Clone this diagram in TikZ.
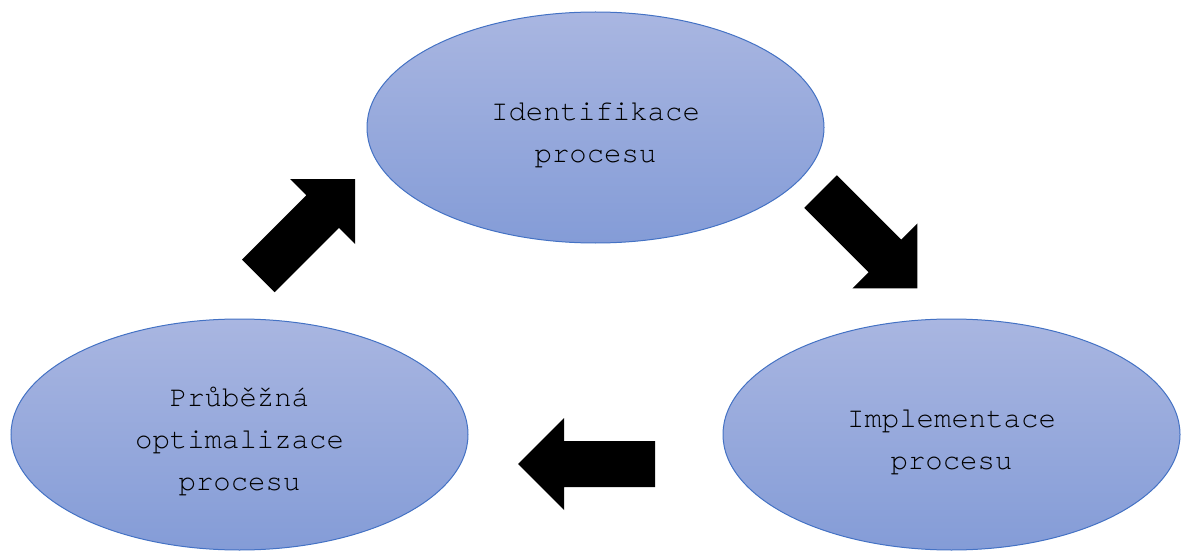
\documentclass[tikz,border=0pt]{standalone}
\usepackage{fontspec}
\setmonofont[Ligatures=NoCommon]{TeX Gyre Cursor}
\usetikzlibrary{shapes.geometric}

\definecolor{ellTop}{RGB}{169,182,225}
\definecolor{ellBot}{RGB}{132,156,215}
\definecolor{ellLine}{RGB}{68,114,196}

\tikzset{
  stage/.style={ellipse, draw=ellLine, line width=1pt,
    top color=ellTop, bottom color=ellBot,
    minimum width=457pt, minimum height=231pt, inner sep=0pt},
  stagetext/.style={align=center, inner sep=0pt, text=black,
    font=\ttfamily\fontsize{29}{42}\selectfont},
  % thick block arrow, pointing along +x, centred on the origin
  blockarrow/.pic={
    \fill[black] (-68.5,-23) -- (22.5,-23) -- (22.5,-46) -- (68.5,0)
      -- (22.5,46) -- (22.5,23) -- (-68.5,23) -- cycle;
  }
}

\begin{document}
\begin{tikzpicture}[x=1pt, y=1pt]
  \useasboundingbox (0,0) rectangle (1181,550);

  % the three stages of the cycle
  \node[stage] (ident) at (595.5,422.5) {};
  \node[stage] (impl)  at (951.5,115.5) {};
  \node[stage] (optim) at (239.5,115.5) {};

  \node[stagetext] (identtext) at ([yshift=-8pt]ident.center) {Identifikace\\procesu};
  \node[stagetext] (impltext)  at ([yshift=-8pt]impl.center)  {Implementace\\procesu};
  \node[stagetext] (optimtext) at ([yshift=-7pt]optim.center) {Průběžná\\optimalizace\\procesu};

  % block arrows running clockwise between the stages
  \pic[rotate=-45] (toimpl)  at (869,310)    {blockarrow};
  \pic[rotate=180] (tooptim) at (586.5,86)   {blockarrow};
  \pic[rotate=45]  (toident) at (306.75,322.5) {blockarrow};
\end{tikzpicture}
\end{document}
